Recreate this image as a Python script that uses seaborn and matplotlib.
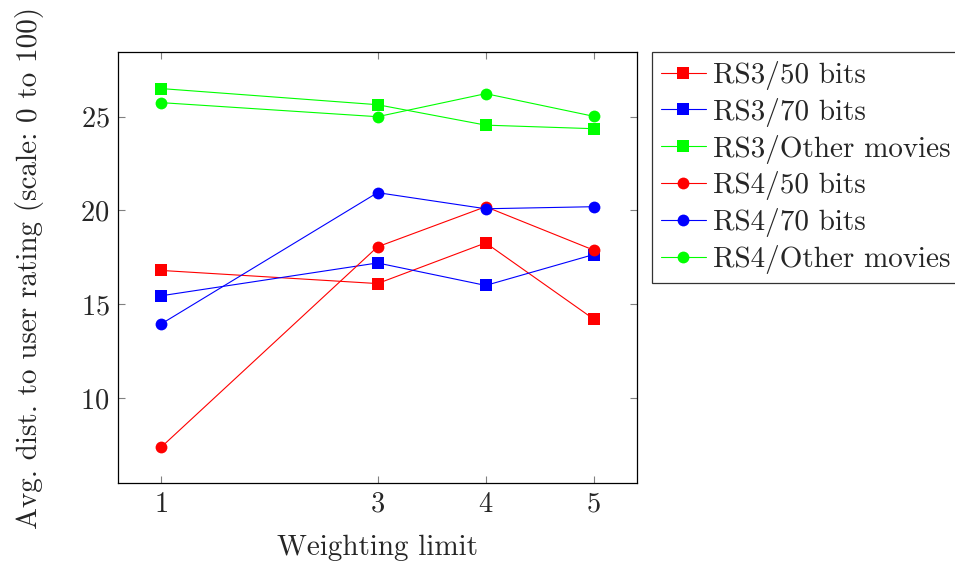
import matplotlib
matplotlib.use("Agg")
import matplotlib.pyplot as plt
import seaborn as sns
import pandas as pd

x_vals = [1, 3, 4, 5]
rs3_50 = [16.8, 16.1, 18.27, 14.2]
rs3_70 = [15.45, 17.2, 16.0, 17.65]
rs3_other = [26.5, 25.64, 24.55, 24.36]
rs4_50 = [7.38, 18.06, 20.2, 17.88]
rs4_70 = [13.95, 20.95, 20.09, 20.2]
rs4_other = [25.75, 25.0, 26.23, 25.02]

labels = ["RS3/50 bits", "RS3/70 bits", "RS3/Other movies",
          "RS4/50 bits", "RS4/70 bits", "RS4/Other movies"]
series = [rs3_50, rs3_70, rs3_other, rs4_50, rs4_70, rs4_other]
colors = ["#ff0000", "#0000ff", "#00ff00", "#ff0000", "#0000ff", "#00ff00"]
markers = ["s", "s", "s", "o", "o", "o"]

sns.set_theme(style="white")
plt.rcParams["font.family"] = ["cmr10", "DejaVu Serif"]
plt.rcParams["axes.formatter.use_mathtext"] = True
plt.rcParams["mathtext.fontset"] = "cm"

FS = 21

fig = plt.figure(figsize=(9.55, 5.63), dpi=100)
ax = fig.add_axes([0.1236, 0.142, 0.5435, 0.7656])

for lab, vals, c, m in zip(labels, series, colors, markers):
    df = pd.DataFrame({"x": x_vals, "y": vals})
    sns.lineplot(data=df, x="x", y="y", ax=ax, color=c, marker=m,
                 markersize=8.5, markeredgewidth=0, linewidth=0.8,
                 label=lab)

ax.set_xlim(0.6, 5.4)
ax.set_ylim(5.46, 28.45)
ax.set_xticks(x_vals)
ax.set_yticks([10, 15, 20, 25])
ax.tick_params(axis="both", which="both", direction="in", length=5,
               width=0.8, color="#808080", labelsize=FS - 0.5,
               top=True, right=True, bottom=True, left=True, pad=6)
for s in ax.spines.values():
    s.set_color("black")
    s.set_linewidth(0.9)
    s.set_visible(True)

ax.set_xlabel("Weighting limit", fontsize=FS, labelpad=12)
ax.set_ylabel("Avg. dist. to user rating (scale: 0 to 100)", fontsize=FS,
              labelpad=26)

leg = ax.legend(loc="upper left", bbox_to_anchor=(1.029, 1.0), fontsize=FS,
                frameon=True, fancybox=False, edgecolor="black",
                borderaxespad=0, handlelength=1.55, handletextpad=0.25,
                labelspacing=0.27, borderpad=0.3, markerscale=1.0)
leg.get_frame().set_linewidth(0.9)

fig.savefig("out.png", dpi=100)
